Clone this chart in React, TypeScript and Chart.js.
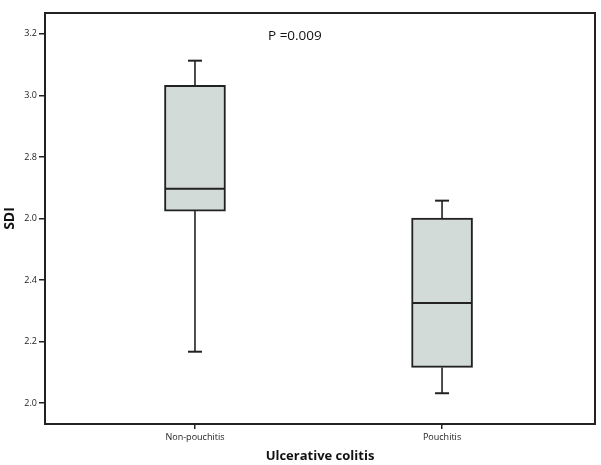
import React, { useEffect, useRef } from "react";
import { Chart, registerables } from "chart.js";

Chart.register(...registerables);

const categories = ["Non-pouchitis", "Pouchitis"];
const whiskerMin = [2.167, 2.032];
const q1 = [2.624, 2.116];
const median = [2.697, 2.325];
const q3 = [3.033, 2.601];
const whiskerMax = [3.113, 2.658];
const yTickValues = [2.0, 2.2, 2.4, 2.6, 2.8, 3.0, 3.2];
const yTickLabels = ["2.0", "2.2", "2.4", "2.0", "2.8", "3.0", "3.2"];
const pValueText = "P =0.009";
const xTitle = "Ulcerative colitis";
const yTitle = "SDI";

const FONT = "'Open Sans', 'DejaVu Sans', sans-serif";
const TICK_FONT = "'Open Sans', sans-serif";
const INK = "#222222";
const FILL = "rgb(211,219,217)";

export default function App() {
  const ref = useRef<HTMLCanvasElement | null>(null);

  useEffect(() => {
    if (!ref.current) return;
    const xs = categories.map((_, i) => i + 1);

    const whiskerSets: any[] = [];
    categories.forEach((_, i) => {
      whiskerSets.push({
        type: "line",
        data: [
          { x: xs[i], y: whiskerMax[i] },
          { x: xs[i], y: q3[i] },
        ],
        borderColor: INK,
        borderWidth: 1.6,
        pointStyle: "line",
        pointRadius: [7, 0],
        pointBorderWidth: 2,
        pointBorderColor: INK,
        order: 1,
      });
      whiskerSets.push({
        type: "line",
        data: [
          { x: xs[i], y: whiskerMin[i] },
          { x: xs[i], y: q1[i] },
        ],
        borderColor: INK,
        borderWidth: 1.6,
        pointStyle: "line",
        pointRadius: [7, 0],
        pointBorderWidth: 2,
        pointBorderColor: INK,
        order: 1,
      });
    });

    const framePlugin = {
      id: "frameAndP",
      afterDraw(chart: any) {
        const { ctx, chartArea } = chart;
        ctx.save();
        ctx.strokeStyle = INK;
        ctx.lineWidth = 2;
        ctx.strokeRect(
          chartArea.left,
          chartArea.top,
          chartArea.right - chartArea.left,
          chartArea.bottom - chartArea.top
        );
        ctx.fillStyle = "#111";
        ctx.font = `13.5px ${FONT}`;
        ctx.textAlign = "left";
        ctx.textBaseline = "middle";
        ctx.fillText(pValueText, 268, 36);
        ctx.restore();
      },
    };

    const chart = new Chart(ref.current, {
      type: "bar",
      data: {
        datasets: [
          {
            type: "line",
            data: xs.map((x, i) => ({ x, y: median[i] })),
            showLine: false,
            pointStyle: "line",
            pointRadius: 30,
            pointBorderWidth: 2,
            pointBorderColor: INK,
            order: 0,
          } as any,
          ...whiskerSets,
          {
            type: "bar",
            data: xs.map((x, i) => ({ x, y: [q1[i], q3[i]] })),
            backgroundColor: FILL,
            borderColor: INK,
            borderWidth: 2,
            borderSkipped: false,
            barThickness: 61,
            order: 2,
          } as any,
        ],
      },
      plugins: [framePlugin],
      options: {
        animation: false,
        responsive: false,
        maintainAspectRatio: false,
        layout: { autoPadding: false, padding: { top: 13, right: 6, left: 0, bottom: 0 } },
        plugins: { legend: { display: false }, tooltip: { enabled: false } },
        scales: {
          x: {
            type: "linear",
            min: 0.393,
            max: 2.619,
            offset: false,
            grid: {
              offset: false,
              drawOnChartArea: false,
              drawTicks: true,
              tickLength: 5,
              color: INK,
              lineWidth: 1.5,
            },
            border: { display: false },
            afterBuildTicks: (scale: any) => {
              scale.ticks = xs.map((v) => ({ value: v }));
            },
            afterFit: (scale: any) => {
              scale.height = 41;
            },
            ticks: {
              autoSkip: false,
              maxRotation: 0,
              padding: 3,
              color: "#222",
              font: { family: TICK_FONT, size: 9 },
              callback: (v: any) => categories[Math.round(Number(v)) - 1] ?? "",
            },
            title: {
              display: true,
              text: xTitle,
              color: "#111",
              font: { family: FONT, size: 13, weight: "bold" },
              padding: { top: 0, bottom: 1 },
            },
          },
          y: {
            type: "linear",
            min: 1.932,
            max: 3.268,
            grid: {
              drawOnChartArea: false,
              drawTicks: true,
              tickLength: 6,
              color: INK,
              lineWidth: 1.5,
            },
            border: { display: false },
            afterBuildTicks: (scale: any) => {
              scale.ticks = yTickValues.map((v) => ({ value: v }));
            },
            afterFit: (scale: any) => {
              scale.width = 45;
            },
            ticks: {
              autoSkip: false,
              padding: 2,
              color: "#222",
              font: { family: TICK_FONT, size: 9 },
              callback: (_v: any, i: number) => yTickLabels[i],
            },
            title: {
              display: true,
              text: yTitle,
              color: "#111",
              font: { family: FONT, size: 14, weight: "bold" },
              padding: { top: 2, bottom: 0 },
            },
          },
        },
      } as any,
    });
    return () => chart.destroy();
  }, []);

  return (
    <div style={{ position: "fixed", left: 0, top: 0, width: 601, height: 465, background: "#fff" }}>
      <canvas ref={ref} width={601} height={465} style={{ display: "block" }} />
    </div>
  );
}
